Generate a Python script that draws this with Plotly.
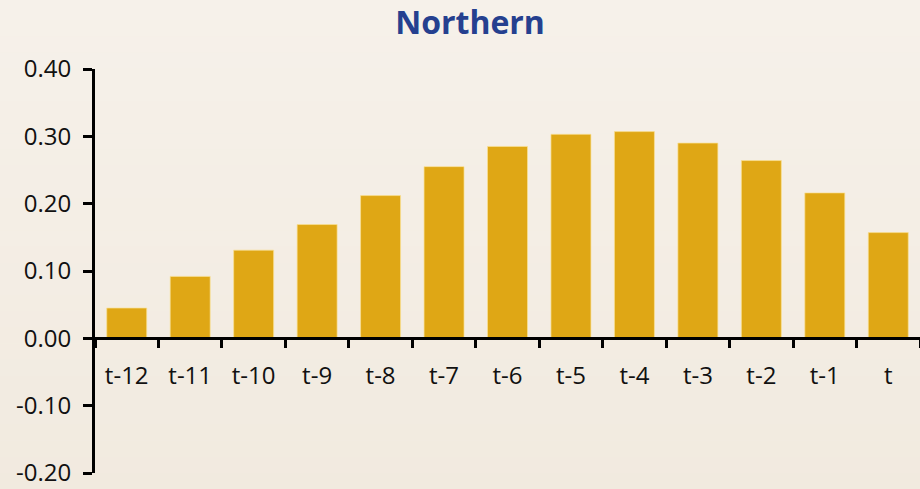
import plotly.graph_objects as go

# Data
categories = ["t-12", "t-11", "t-10", "t-9", "t-8", "t-7", "t-6",
              "t-5", "t-4", "t-3", "t-2", "t-1", "t"]
values = [0.045, 0.092, 0.131, 0.169, 0.212, 0.255, 0.285,
          0.303, 0.307, 0.290, 0.264, 0.216, 0.157]
y_ticks = [-0.2, -0.1, 0.0, 0.1, 0.2, 0.3, 0.4]
y_tick_labels = ["-0.20", "-0.10", "0.00", "0.10", "0.20", "0.30", "0.40"]

title_text = "Northern"
bar_color = "#DFA715"
title_color = "#25408F"
font_family = "Open Sans, Liberation Sans, sans-serif"

y_min, y_max = -0.2, 0.4

fig = go.Figure()
fig.add_trace(go.Bar(
    x=categories,
    y=values,
    width=0.63,
    marker=dict(color=bar_color, line=dict(color="rgba(250,225,150,0.7)", width=1)),
    hoverinfo="x+y",
))

# Soft vertical background gradient built from thin paper-space bands
top_rgb = (246, 241, 234)
bot_rgb = (240, 232, 220)
n_bands = 40
shapes = []
for i in range(n_bands):
    f = i / (n_bands - 1)
    c = tuple(round(top_rgb[k] + (bot_rgb[k] - top_rgb[k]) * f) for k in range(3))
    shapes.append(dict(
        type="rect", xref="paper", yref="paper", layer="below",
        x0=-0.2, x1=1.2,
        y0=1.2 - (i + 1) * 1.6 / n_bands, y1=1.2 - i * 1.6 / n_bands + 0.001,
        line=dict(width=0), fillcolor="rgb(%d,%d,%d)" % c,
    ))

fig.update_layout(
    width=920, height=489,
    margin=dict(l=95, r=0, t=69, b=16),
    paper_bgcolor="rgb(243,237,227)",
    plot_bgcolor="rgba(0,0,0,0)",
    shapes=shapes,
    showlegend=False,
    bargap=0.37,
    font=dict(family=font_family, size=24, color="#111111"),
    title=dict(
        text="<b>" + title_text + "</b>",
        x=470 / 920, xanchor="center", xref="container",
        y=1 - 23 / 489, yanchor="middle", yref="container",
        font=dict(family=font_family, size=32, color=title_color),
    ),
    xaxis=dict(
        type="category",
        range=[-0.5, len(categories) - 0.5],
        anchor="free",
        position=(0 - y_min) / (y_max - y_min),
        showline=True, linecolor="black", linewidth=3,
        ticks="outside", tickson="boundaries", ticklen=8, tickwidth=3, tickcolor="black",
        ticklabelstandoff=15,
        showgrid=False, zeroline=False,
        tickfont=dict(family=font_family, size=24, color="#111111"),
    ),
    yaxis=dict(
        range=[y_min, y_max],
        tickvals=y_ticks, ticktext=y_tick_labels,
        showline=True, linecolor="black", linewidth=3,
        ticks="outside", ticklen=9, tickwidth=3, tickcolor="black",
        ticklabelstandoff=7,
        showgrid=False, zeroline=False,
        tickfont=dict(family=font_family, size=24, color="#111111"),
    ),
)

fig.write_html("out.html")
